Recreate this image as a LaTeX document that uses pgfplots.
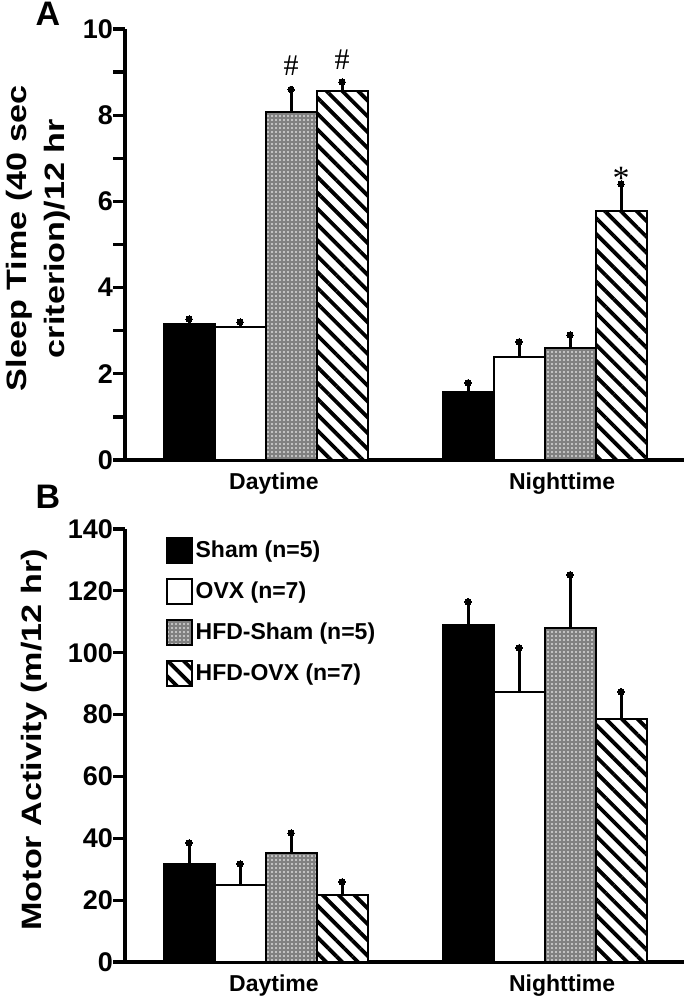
\documentclass[border=0pt]{standalone}
\usepackage{fontspec}
\setmainfont{Liberation Sans}
\newfontfamily\ylabfont[FakeStretch=1.22]{Liberation Sans}
\newfontfamily\seriffont{Liberation Serif}
\usepackage{pgfplots}
\pgfplotsset{compat=1.18}
\usetikzlibrary{patterns.meta}
\pgfplotsset{
  boxleg/.style={legend image code/.code={\draw[##1,line width=1pt] (0pt,-6.25pt) rectangle (12.5pt,6.25pt);}},
  sham/.style={fill=black,draw=black,line width=1pt,boxleg},
  ovx/.style={fill=white,draw=black,line width=1pt,boxleg},
  hfdsham/.style={fill=black!50,draw=black,line width=1pt,postaction={pattern={Dots[distance=2pt,radius=0.55pt]},pattern color=white!85!black},boxleg},
  hfdovx/.style={fill=white,draw=black,line width=1pt,postaction={pattern={Lines[angle=-45,distance=5.6pt,line width=1.9pt]},pattern color=black},boxleg},
  panel/.style={
    scale only axis, width=279.5pt,
    ybar=0pt, bar width=25.5pt,
    xmin=-0.504, xmax=1.5, ymin=0,
    axis x line*=bottom, axis y line*=left,
    axis line style={-,line width=1.7pt,black},
    xtick={0.03,1.063}, xticklabels={Daytime,Nighttime},
    x tick style={draw=none},
    tick align=outside, major tick length=6pt, minor tick length=6pt,
    y tick style={line width=1.6pt,black},
    /pgf/number format/assume math mode=true,
    yticklabel style={font=\fontsize{13.5}{13.5}\selectfont\bfseries, xshift=3.5pt},
    xticklabel style={font=\fontsize{11.5}{12}\selectfont\bfseries, yshift=3pt},
    every axis y label/.style={rotate=90, anchor=center, align=center,
      font=\ylabfont\fontsize{14}{19}\selectfont\bfseries},
    error bars/y dir=plus, error bars/y explicit,
    error bars/error bar style={line width=1.5pt,black},
    error bars/error mark=*,
    error bars/error mark options={mark size=1.6pt,black,fill=black,line width=0pt},
    clip=false,
  },
}
\begin{document}
\begin{tikzpicture}
\path[use as bounding box] (0,0) rectangle (346.5pt,-500pt);
% Panel A
\begin{axis}[panel, at={(62.5pt,-230pt)}, anchor=south west, height=215.5pt,
  ymax=10, ytick={0,2,4,6,8,10}, minor ytick={1,3,5,7,9},
  ylabel={Sleep Time (40 sec\\criterion)/12 hr},
  ylabel style={at={(axis description cs:-0.155,0.514)}}]
\addplot[sham] coordinates {(0,3.16) +- (0,0.11) (1,1.58) +- (0,0.21)};
\addplot[ovx] coordinates {(0,3.09) +- (0,0.11) (1,2.39) +- (0,0.35)};
\addplot[hfdsham] coordinates {(0,8.07) +- (0,0.53) (1,2.60) +- (0,0.30)};
\addplot[hfdovx] coordinates {(0,8.56) +- (0,0.21) (1,5.78) +- (0,0.62)};
\node[font=\seriffont\fontsize{15}{15}\selectfont, anchor=south] at (axis cs:0.0915,8.75) {\#};
\node[font=\seriffont\fontsize{15}{15}\selectfont, anchor=south] at (axis cs:0.2745,8.9) {\#};
\node[font=\seriffont\fontsize{17}{17}\selectfont, anchor=north] at (axis cs:1.2745,6.95) {*};
\node[font=\fontsize{17}{17}\selectfont\bfseries] at (axis description cs:-0.138,1.035) {A};
\end{axis}
% Panel B
\begin{axis}[panel, at={(62.5pt,-481pt)}, anchor=south west, height=216.5pt,
  ymax=140, ytick={0,20,...,140},
  ylabel={Motor Activity (m/12 hr)},
  ylabel style={at={(axis description cs:-0.163,0.513)}},
  legend style={at={(axis description cs:0.072,0.982)}, anchor=north west,
    draw=none, fill=none, font=\fontsize{11.5}{12}\selectfont\bfseries,
    row sep=7pt, inner sep=0pt, nodes={inner sep=1.5pt}},
  legend cell align=left]
\addplot[sham] coordinates {(0,31.7) +- (0,6.8) (1,109) +- (0,7.5)};
\addplot[ovx] coordinates {(0,24.9) +- (0,6.8) (1,87.4) +- (0,14.2)};
\addplot[hfdsham] coordinates {(0,35.3) +- (0,6.4) (1,108) +- (0,17.2)};
\addplot[hfdovx] coordinates {(0,21.7) +- (0,4.2) (1,78.6) +- (0,8.8)};
\legend{Sham (n=5),OVX (n=7),HFD-Sham (n=5),HFD-OVX (n=7)}
\node[font=\fontsize{17}{17}\selectfont\bfseries] at (axis description cs:-0.138,1.075) {B};
\end{axis}
\end{tikzpicture}
\end{document}
